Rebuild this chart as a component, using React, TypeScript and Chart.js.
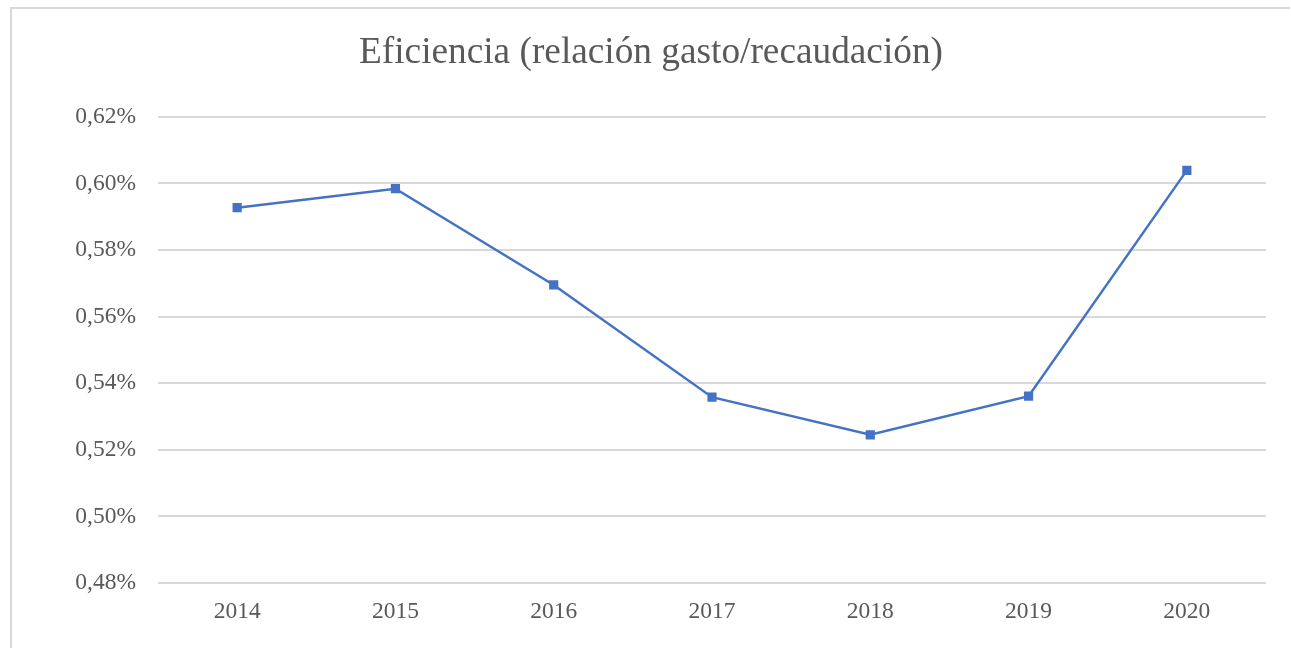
import React, { useEffect, useRef } from "react";
import { Chart, registerables } from "chart.js";

Chart.register(...registerables);

const TITLE = "Eficiencia (relación gasto/recaudación)";
const YEARS = ["2014", "2015", "2016", "2017", "2018", "2019", "2020"];
const EFICIENCIA = [0.5927, 0.5984, 0.5695, 0.5358, 0.5245, 0.5361, 0.6039];
const Y_MIN = 0.48;
const Y_MAX = 0.62;
const Y_STEP = 0.02;

const TEXT = "#595959";
const GRID = "#d9d9d9";
const LINE = "#4472c4";
const FONT = "'Liberation Serif', 'Times New Roman', serif";

export default function App() {
  const ref = useRef<HTMLCanvasElement | null>(null);

  useEffect(() => {
    document.body.style.margin = "0";
    document.body.style.overflow = "hidden";
    const canvas = ref.current;
    if (!canvas) return;
    const chart = new Chart(canvas, {
      type: "line",
      data: {
        labels: YEARS,
        datasets: [
          {
            label: "Eficiencia",
            data: EFICIENCIA,
            borderColor: LINE,
            backgroundColor: LINE,
            borderWidth: 2.5,
            pointStyle: "rect",
            pointRadius: 6.5,
            pointHoverRadius: 6.5,
            pointBorderWidth: 0,
            tension: 0,
            yAxisID: "y",
          },
        ],
      },
      options: {
        responsive: false,
        animation: false,
        devicePixelRatio: 1,
        layout: { padding: 0 },
        plugins: {
          legend: { display: false },
          tooltip: { enabled: false },
          title: {
            display: true,
            text: TITLE,
            color: TEXT,
            font: { family: FONT, size: 37.3, weight: "normal" },
            padding: { top: 22, bottom: 41 },
          },
        },
        scales: {
          x: {
            offset: true,
            grid: { display: false, drawTicks: false },
            border: { display: false },
            ticks: {
              color: TEXT,
              font: { family: FONT, size: 23.5 },
              padding: 15,
              maxRotation: 0,
            },
            afterFit: (s: any) => {
              s.height = 76;
            },
          },
          y: {
            min: Y_MIN,
            max: Y_MAX,
            grid: { color: GRID, lineWidth: 2, drawTicks: false },
            border: { display: false },
            ticks: {
              stepSize: Y_STEP,
              color: TEXT,
              font: { family: FONT, size: 23.5 },
              padding: 22,
              callback: (v: any) => Number(v).toFixed(2).replace(".", ",") + "%",
            },
            afterFit: (s: any) => {
              s.width = 146;
            },
          },
          yRight: {
            position: "right",
            display: true,
            grid: { display: false, drawTicks: false },
            border: { display: false },
            ticks: { display: false },
            afterFit: (s: any) => {
              s.width = 24;
            },
          },
        },
      },
    });
    return () => chart.destroy();
  }, []);

  return (
    <div
      style={{
        position: "absolute",
        left: 10,
        top: 7,
        borderLeft: "2px solid #d9d9d9",
        borderTop: "2px solid #d9d9d9",
        background: "#fff",
      }}
    >
      <canvas ref={ref} width={1278} height={650} style={{ display: "block" }} />
    </div>
  );
}
